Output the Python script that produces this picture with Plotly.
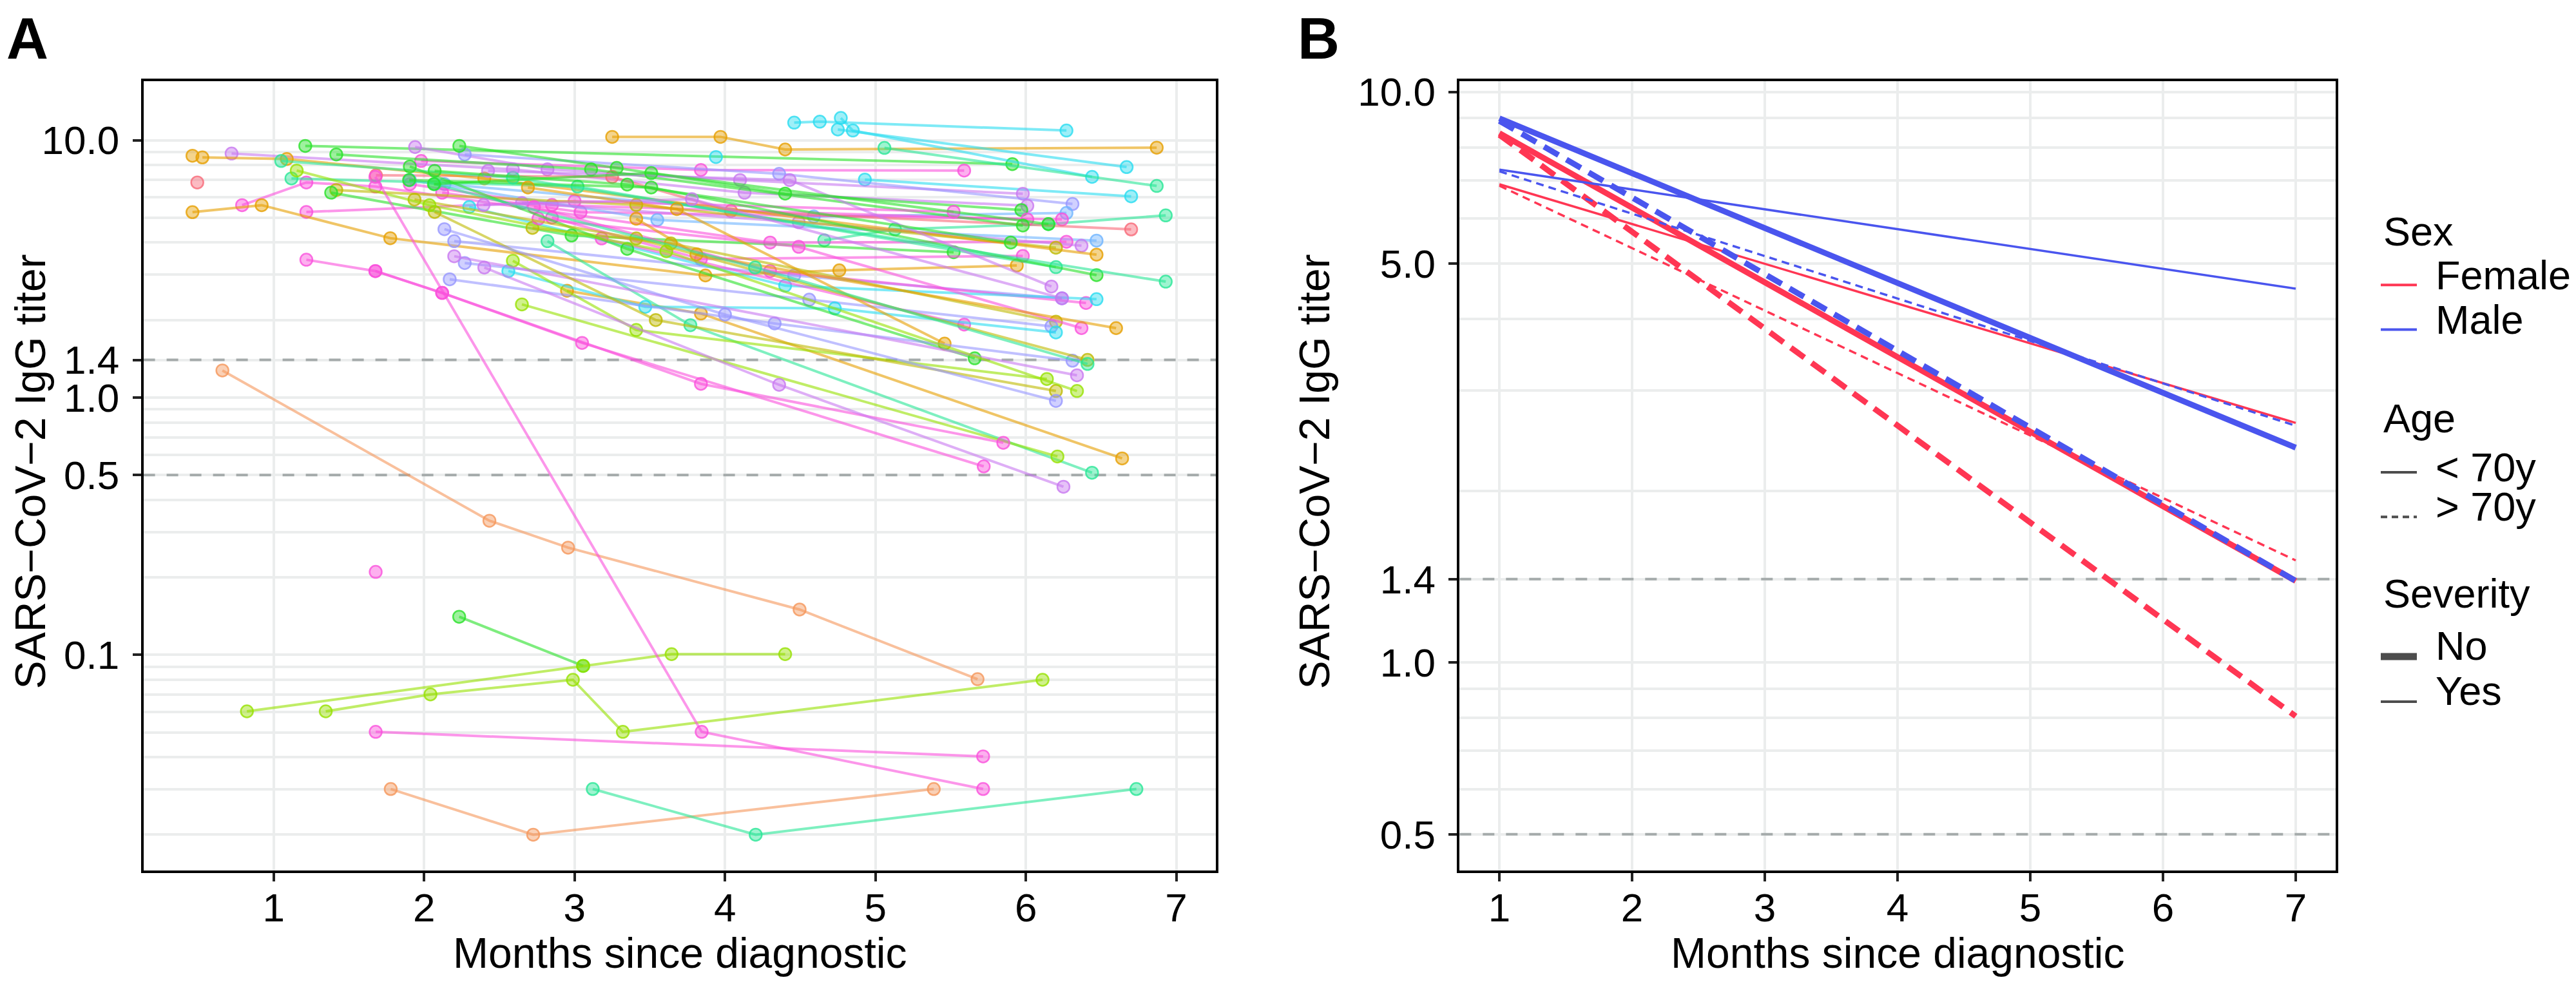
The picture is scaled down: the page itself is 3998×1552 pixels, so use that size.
import plotly.graph_objects as go

# Page is shown in a 3998x1552 window; the html body adds an 8 px margin,
# so the figure is made 16 px smaller and all layout positions are shifted.
WIN_W, WIN_H = 3998, 1552
OFF = 8
FW, FH = WIN_W - 2 * OFF, WIN_H - 2 * OFF
FONT = "Liberation Sans, Arial, Helvetica, sans-serif"

# ---------------- Panel A data: one list entry per patient ----------------
PALETTE = {
    "OR": (230, 159, 0), "SA": (245, 150, 90), "RD": (248, 105, 120),
    "OL": (190, 185, 0), "YG": (150, 225, 0), "GR": (40, 225, 40),
    "MT": (40, 230, 150), "CY": (40, 220, 240), "LB": (110, 180, 255),
    "LV": (150, 150, 255), "PU": (200, 120, 240), "PK": (250, 80, 220),
}

PATIENT_COLORS = [
    "CY", "OR", "CY", "GR", "PK", "CY", "MT", "CY", "PU", "LV",
    "PU", "LB", "GR", "MT", "PK", "PK", "RD", "GR", "PK", "LB",
    "PK", "PU", "OL", "OR", "GR", "PK", "OR", "MT", "GR", "MT",
    "PU", "LV", "PK", "CY", "PK", "OL", "LV", "PK", "OR", "OR",
    "MT", "CY", "OR", "GR", "LV", "OL", "MT", "YG", "YG", "PU",
    "OL", "YG", "LV", "PK", "PK", "PU", "OR", "RD", "CY",
    "SA", "PK", "GR", "YG", "YG", "PK", "PK", "SA", "MT",
    "GR", "GR", "PU",
]

PATIENT_MONTHS = [
    [4.46, 4.63, 6.27], [3.25, 3.97, 4.40, 6.87], [4.75, 6.67], [1.21, 5.91],
    [1.98, 3.84, 5.59], [4.77, 4.85, 6.44], [5.06, 6.87], [4.93, 6.70],
    [1.94, 2.82, 4.10, 5.98], [2.27, 4.36, 6.31],
    [0.72, 2.59, 4.13, 6.01], [2.135, 4.59, 6.27], [2.234, 3.28, 4.40, 5.97],
    [4.66, 5.13, 6.15, 6.93], [1.905, 2.85, 6.01], [2.12, 3.04, 6.24],
    [1.68, 3.25, 4.04, 6.70], [1.416, 3.11, 5.98], [1.217, 3.00, 5.52],
    [1.905, 3.55, 6.47],
    [0.79, 1.217, 1.676, 4.30, 6.27], [2.65, 4.49, 6.37], [1.416, 3.41, 6.20],
    [0.526, 1.087, 2.40, 6.47], [1.382, 2.98, 5.52], [2.85, 3.84, 5.98],
    [0.46, 0.92, 1.775, 3.87, 4.76, 5.94], [1.118, 3.02, 6.20],
    [1.90, 3.51, 6.47], [1.05, 2.59, 6.93],
    [2.425, 4.43, 6.17], [2.20, 4.46, 6.24], [2.73, 4.30, 6.40],
    [2.30, 4.40, 6.47], [3.18, 5.59], [2.72, 3.64, 6.20], [2.27, 4.56, 6.17],
    [2.76, 4.49, 6.37], [2.95, 3.84, 6.64], [3.41, 3.81, 6.60],
    [2.82, 3.77, 6.44], [2.56, 3.47, 4.73, 6.20], [2.69, 3.68, 5.46],
    [1.905, 3.35, 5.66], [2.17, 4.33, 6.31], [1.936, 3.41, 6.41],
    [2.07, 4.20, 6.41], [2.59, 3.41, 6.14], [2.65, 6.21], [2.20, 6.34],
    [2.07, 3.54, 6.20], [1.153, 2.035, 3.61, 6.34], [2.135, 4.00, 6.20],
    [1.217, 1.676, 2.12, 3.05, 5.72], [1.676, 2.12, 3.84, 5.85],
    [2.40, 4.36, 6.25], [0.46], [0.492], [3.94],
    [0.659, 2.434, 2.957, 4.496, 5.679], [1.678], [2.233, 3.057],
    [0.822, 3.057, 3.645, 4.40], [1.346, 2.042, 2.989, 3.321, 6.111],
    [1.678, 5.716], [1.676, 3.845, 5.716], [1.778, 2.725, 5.388],
    [3.121, 4.204, 6.735],
    [2.07, 3.35, 5.90], [2.065, 3.51, 6.15], [2.395, 3.78, 6.24],
]

PATIENT_TITERS = [
    [11.7, 11.8, 10.9], [10.3, 10.3, 9.2, 9.35], [11.0, 7.86], [9.5, 8.07],
    [8.3, 7.66, 7.62], [12.2, 10.9, 7.2], [9.33, 6.64], [7.03, 6.05],
    [9.4, 7.7, 7.0, 6.19], [8.8, 7.4, 5.65],
    [8.87, 7.7, 6.25, 5.56], [6.75, 5.05, 5.21], [9.5, 7.8, 6.2, 5.35],
    [4.08, 4.5, 4.72, 5.1], [6.75, 5.6, 4.92], [6.25, 5.25, 4.92],
    [7.3, 7.2, 5.31, 4.5], [8.8, 7.7, 4.66], [5.26, 5.8, 5.27],
    [7.0, 4.9, 4.07],
    [5.59, 6.85, 6.6, 4.0, 4.03], [5.7, 4.8, 3.89], [6.4, 5.6, 3.82],
    [8.57, 8.45, 7.1, 3.59], [6.25, 4.26, 3.67], [5.0, 3.45, 3.55],
    [5.25, 5.59, 4.16, 2.98, 3.12, 3.26], [7.1, 6.6, 3.21],
    [7.0, 6.55, 2.99], [8.3, 7.15, 2.82],
    [7.6, 7.0, 2.7], [4.05, 2.98, 2.43], [5.5, 3.1, 2.33],
    [5.5, 2.72, 2.41], [4.15, 1.92], [4.56, 3.97, 1.97], [3.33, 2.4, 1.89],
    [4.95, 3.85, 1.86], [2.6, 2.12, 0.58], [4.95, 3.6, 1.86],
    [4.05, 1.91, 0.51], [3.1, 2.25, 2.22, 1.79], [6.55, 5.4, 1.62],
    [7.9, 3.78, 1.42], [2.88, 1.94, 1.39], [5.88, 4.15, 1.40],
    [6.75, 3.2, 1.35], [3.4, 1.83, 1.18], [2.3, 0.59], [3.54, 1.22],
    [5.26, 2.0, 1.06], [7.62, 5.59, 3.7, 1.06], [4.51, 2.1, 0.97],
    [3.43, 3.1, 2.55, 1.63, 0.54], [3.1, 2.55, 1.13, 0.667],
    [3.2, 1.12, 0.45], [8.7], [6.85], [8.6],
    [1.274, 0.332, 0.261, 0.150, 0.0804], [0.21], [0.1406, 0.0906],
    [0.0603, 0.0906, 0.1006, 0.1006], [0.0603, 0.0702, 0.080, 0.0502, 0.080],
    [0.0502, 0.0403], [7.2, 0.0502, 0.0301], [0.0301, 0.020, 0.0301],
    [0.0301, 0.020, 0.0301],
    [7.6, 6.72, 4.0], [6.75, 7.45, 4.72], [5.6, 5.9, 2.43],
]

THRESHOLDS = [1.4, 0.5]

A_XRANGE = [0.134, 7.263]
A_YRANGE_LOG = [-1.837, 1.229]
A_TICKVALS = [0.1, 0.5, 1.0, 1.4, 10.0]
A_TICKTEXT = ["0.1", "0.5", "1.0", "1.4", "10.0"]
A_MINOR = [0.02, 0.03, 0.04, 0.05, 0.06, 0.07, 0.08, 0.09,
           0.2, 0.3, 0.4, 0.6, 0.7, 0.8, 0.9, 2, 3, 4, 5, 6, 7, 8, 9]

# ---------------- Panel B data: model lines ----------------
B_MONTHS = [1, 7]
B_SEX = ["Female", "Female", "Female", "Female", "Male", "Male", "Male", "Male"]
B_AGE = ["< 70y", "> 70y", "< 70y", "> 70y", "< 70y", "> 70y", "< 70y", "> 70y"]
B_SEVERE = ["No", "No", "Yes", "Yes", "No", "No", "Yes", "Yes"]
B_START = [8.47, 8.41, 6.89, 6.85, 8.99, 8.90, 7.31, 7.26]
B_END = [1.39, 0.805, 2.63, 1.51, 2.38, 1.39, 4.52, 2.60]

B_XRANGE = [0.7, 7.3]
B_YRANGE_LOG = [-0.364, 1.0188]
B_TICKVALS = [0.5, 1.0, 1.4, 5.0, 10.0]
B_TICKTEXT = ["0.5", "1.0", "1.4", "5.0", "10.0"]
B_MINOR = [0.6, 0.7, 0.8, 0.9, 2, 3, 4, 6, 7, 8, 9]

SEX_COLORS = {"Female": "#FF3653", "Male": "#4A55EE"}
KEY_GREY = "#4D4D4D"
THRESH_STYLE = dict(color="#A5ABAB", width=4, dash="18px,18px")


def rgba(key, a):
    r, g, b = PALETTE[key]
    return f"rgba({r},{g},{b},{a})"


def px_x(p):
    # window pixel -> paper fraction
    return (p - OFF) / FW


def px_y(p):
    return 1 - (p - OFF) / FH


fig = go.Figure()

# Threshold reference lines (drawn first so they sit under the data)
for t in THRESHOLDS:
    fig.add_trace(go.Scatter(x=A_XRANGE, y=[t, t], mode="lines", xaxis="x", yaxis="y",
                             line=THRESH_STYLE, showlegend=False, hoverinfo="skip"))
    fig.add_trace(go.Scatter(x=B_XRANGE, y=[t, t], mode="lines", xaxis="x2", yaxis="y2",
                             line=THRESH_STYLE, showlegend=False, hoverinfo="skip"))

for col, mx, ty in zip(PATIENT_COLORS, PATIENT_MONTHS, PATIENT_TITERS):
    fig.add_trace(go.Scatter(
        x=mx, y=ty, mode="lines+markers", xaxis="x", yaxis="y",
        line=dict(color=rgba(col, 0.6), width=4),
        marker=dict(size=19, color=rgba(col, 0.45),
                    line=dict(color=rgba(col, 0.8), width=2.5)),
        showlegend=False, hoverinfo="skip"))

# Panel B: draw Female first, Male on top
for sex, age, sev, y0, y1 in zip(B_SEX, B_AGE, B_SEVERE, B_START, B_END):
    thick = sev == "No"
    if age == "< 70y":
        dash = "solid"
    else:
        dash = "26px,14px" if thick else "12px,8px"
    fig.add_trace(go.Scatter(
        x=B_MONTHS, y=[y0, y1], mode="lines", xaxis="x2", yaxis="y2",
        line=dict(color=SEX_COLORS[sex], width=9 if thick else 3.5, dash=dash),
        showlegend=False, hoverinfo="skip"))

GRID = "#EBEDED"
axis_common = dict(
    showline=True, linecolor="black", linewidth=4, mirror=True,
    ticks="outside", ticklen=13, tickwidth=3.5, tickcolor="#222222",
    showgrid=True, gridcolor=GRID, gridwidth=3.5, zeroline=False,
    tickfont=dict(family=FONT, size=62, color="black"),
)

# plot-area edges in window pixels
A_X0, A_X1 = 222.6, 1887.0
B_X0, B_X1 = 2265.3, 3624.8
P_Y0, P_Y1 = 110.2, 1348.4

fig.update_layout(
    width=FW, height=FH, margin=dict(l=0, r=0, t=0, b=0), autosize=False,
    paper_bgcolor="white", plot_bgcolor="white",
    xaxis=dict(domain=[px_x(A_X0), px_x(A_X1)], range=A_XRANGE,
               tickvals=[1, 2, 3, 4, 5, 6, 7], anchor="y",
               ticklabelstandoff=-12, **axis_common),
    yaxis=dict(domain=[px_y(P_Y1), px_y(P_Y0)], type="log",
               range=A_YRANGE_LOG, tickvals=A_TICKVALS, ticktext=A_TICKTEXT,
               anchor="x", ticklabelstandoff=8,
               minor=dict(tickvals=A_MINOR, showgrid=True, gridcolor=GRID,
                          gridwidth=3.5, ticks=""),
               **axis_common),
    xaxis2=dict(domain=[px_x(B_X0), px_x(B_X1)], range=B_XRANGE,
                tickvals=[1, 2, 3, 4, 5, 6, 7], anchor="y2",
                ticklabelstandoff=-12, **axis_common),
    yaxis2=dict(domain=[px_y(P_Y1), px_y(P_Y0)], type="log",
                range=B_YRANGE_LOG, tickvals=B_TICKVALS, ticktext=B_TICKTEXT,
                anchor="x2", ticklabelstandoff=8,
                minor=dict(tickvals=B_MINOR, showgrid=True, gridcolor=GRID,
                           gridwidth=3.5, ticks=""),
                **axis_common),
)

shapes = []
annotations = []
TEXT_DY = -6  # middle-anchored text renders slightly low; lift it


def text(x, y, s, size=62, xanchor="left", angle=0, bold=False):
    annotations.append(dict(
        x=px_x(x), y=px_y(y + TEXT_DY), xref="paper", yref="paper", text=s,
        showarrow=False, xanchor=xanchor, yanchor="middle", textangle=angle,
        font=dict(family=FONT, size=size, color="black",
                  weight="bold" if bold else "normal")))


# Panel labels
text(8, 49, "A", size=90, bold=True)
text(2012, 49, "B", size=90, bold=True)

# Axis titles
text((A_X0 + A_X1) / 2, 1484, "Months since diagnostic", size=66, xanchor="center")
text((B_X0 + B_X1) / 2, 1484, "Months since diagnostic", size=66, xanchor="center")
text(47, (P_Y0 + P_Y1) / 2, "SARS−CoV−2 IgG titer", size=66, xanchor="center", angle=-90)
text(2040, (P_Y0 + P_Y1) / 2, "SARS−CoV−2 IgG titer", size=66, xanchor="center", angle=-90)

# Manual legend (ggplot style, three titled groups)
LX0, LX1, LT = 3695, 3751, 3778
text(3697, 352, "Sex", size=63)
legend_rows = [
    (430, 420, "Female", SEX_COLORS["Female"], 4, "solid"),
    (500, 490, "Male", SEX_COLORS["Male"], 4, "solid"),
    (724, 722, "< 70y", KEY_GREY, 4, "solid"),
    (794, 784, "> 70y", KEY_GREY, 4, "10px,7px"),
    (1013, 1002, "No", KEY_GREY, 11, "solid"),
    (1084, 1073, "Yes", KEY_GREY, 4, "solid"),
]
for ykey, ytxt, label, colr, wdt, dsh in legend_rows:
    shapes.append(dict(type="line", xref="paper", yref="paper",
                       x0=px_x(LX0), x1=px_x(LX1), y0=px_y(ykey), y1=px_y(ykey),
                       line=dict(color=colr, width=wdt, dash=dsh)))
    text(LT, ytxt, label, size=63)
text(3697, 645, "Age", size=63)
text(3697, 920, "Severity", size=63)

fig.update_layout(shapes=shapes, annotations=annotations)

fig.write_html("out.html")
